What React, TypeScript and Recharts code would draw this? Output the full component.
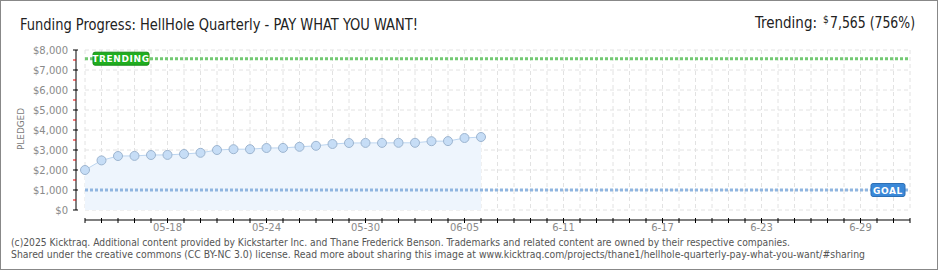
import React from 'react';
import {
  ComposedChart,
  Area,
  XAxis,
  YAxis,
  CartesianGrid,
  ReferenceLine,
} from 'recharts';

// ---- data ----
const startDate = '05-13';
const dates = [
  '05-13', '05-14', '05-15', '05-16', '05-17', '05-18', '05-19', '05-20', '05-21', '05-22',
  '05-23', '05-24', '05-25', '05-26', '05-27', '05-28', '05-29', '05-30', '05-31', '06-01',
  '06-02', '06-03', '06-04', '06-05', '06-06',
];
const pledged = [
  2000, 2480, 2700, 2705, 2750, 2755, 2800, 2860, 3000, 3040,
  3040, 3100, 3105, 3160, 3210, 3300, 3350, 3355, 3355, 3360,
  3360, 3440, 3445, 3600, 3650,
];
const goal = 1000;
const trending = 7565;
const endDay = 50; // 07-02
const labelDays = [5, 11, 17, 23, 29, 35, 41, 47];
const labelTexts = ['05-18', '05-24', '05-30', '06-05', '6-11', '6-17', '6-23', '6-29'];
const majorTicks = [0, 1000, 2000, 3000, 4000, 5000, 6000, 7000, 8000];
const minorTicks = [500, 1500, 2500, 3500, 4500, 5500, 6500, 7500];

const dayIndex = (md: string) => {
  const [m, d] = md.split('-').map(Number);
  const [m0, d0] = startDate.split('-').map(Number);
  return Math.round((Date.UTC(2025, m - 1, d) - Date.UTC(2025, m0 - 1, d0)) / 86400000);
};

const data = dates.map((d, i) => ({ day: dayIndex(d), value: pledged[i] }));
const dayTicks = Array.from({ length: endDay + 1 }, (_, i) => i);
const yTicks = [...majorTicks, ...minorTicks].sort((a, b) => a - b);

const FONT = "'DejaVu Sans', sans-serif";

const fmtMoney = (v: number) => '$' + v.toLocaleString('en-US');

const YTick = (props: any) => {
  const { x, y, payload } = props;
  const v = payload.value;
  const ax = x - 9;
  const major = majorTicks.includes(v);
  if (!major) {
    return <line x1={ax - 3} x2={ax} y1={y} y2={y} stroke="#e00000" strokeWidth={1} />;
  }
  return (
    <g>
      <line x1={ax - 3} x2={ax + 2} y1={y} y2={y} stroke="#000" strokeWidth={1} />
      <text x={ax - 8} y={y} dy={4} textAnchor="end" fill="#8a8a8a" fontSize={10} fontFamily={FONT}>
        {fmtMoney(v)}
      </text>
    </g>
  );
};

const XTick = (props: any) => {
  const { x, y, payload } = props;
  const idx = labelDays.indexOf(payload.value);
  return (
    <g>
      <line x1={x} x2={x} y1={y + 8} y2={y + 13} stroke="#000" strokeWidth={1} />
      {idx >= 0 && (
        <text x={x} y={y + 21} textAnchor="middle" fill="#8a8a8a" fontSize={10} fontFamily={FONT}>
          {labelTexts[idx]}
        </text>
      )}
    </g>
  );
};

const TrendLabel = (props: any) => {
  const { x, y } = props.viewBox;
  return (
    <g>
      <rect x={x + 8} y={y - 6.5} width={56} height={13} rx={2} fill="#1fae1f" stroke="#178c17" strokeWidth={1} />
      <text x={x + 36} y={y} dy={3.5} textAnchor="middle" fill="#fff" fontSize={9} fontWeight="bold"
        fontFamily={FONT} letterSpacing={0.6}>TRENDING</text>
    </g>
  );
};

const GoalLabel = (props: any) => {
  const { x, y, width } = props.viewBox;
  const right = x + width - 5;
  return (
    <g>
      <rect x={right - 34} y={y - 6.5} width={34} height={13} rx={2} fill="#3a88d8" stroke="#2c6fb5" strokeWidth={1} />
      <text x={right - 17} y={y} dy={3.5} textAnchor="middle" fill="#fff" fontSize={9} fontWeight="bold"
        fontFamily={FONT} letterSpacing={0.6}>GOAL</text>
    </g>
  );
};

export default function App() {
  return (
    <div style={{ position: 'absolute', left: 0, top: 0, width: 940, height: 270, background: '#fff' }}>
      <ComposedChart
        width={940}
        height={270}
        data={data}
        margin={{ top: 50, right: 30, bottom: 40, left: 0 }}
      >
        <CartesianGrid
          stroke="#e2e2e2"
          strokeDasharray="4 3"
          horizontalValues={majorTicks}
          verticalValues={dayTicks}
        />
        <XAxis
          dataKey="day"
          type="number"
          domain={[0, endDay]}
          ticks={dayTicks}
          interval={0}
          height={20}
          tickSize={0}
          tickMargin={0}
          tickLine={false}
          axisLine={{ stroke: '#000', transform: 'translate(0 10)' } as any}
          tick={<XTick />}
        />
        <YAxis
          type="number"
          domain={[0, 8000]}
          ticks={yTicks}
          interval={0}
          width={85}
          tickSize={0}
          tickMargin={0}
          tickLine={false}
          axisLine={{ stroke: '#000', transform: 'translate(-9 0)' } as any}
          tick={<YTick />}
        />
        <Area
          type="linear"
          dataKey="value"
          stroke="#bcd5f0"
          strokeWidth={1}
          fill="#eef5fd"
          fillOpacity={1}
          dot={{ r: 4.5, fill: '#c6ddf6', stroke: '#9db5d0', strokeWidth: 1 }}
          activeDot={false}
          isAnimationActive={false}
        />
        <ReferenceLine y={goal} stroke="#8fb5e0" strokeWidth={3} strokeDasharray="3 2" label={<GoalLabel />} />
        <ReferenceLine y={trending} stroke="#72c972" strokeWidth={3} strokeDasharray="3 2" label={<TrendLabel />} />
      </ComposedChart>
      <svg width={940} height={270} style={{ position: 'absolute', left: 0, top: 0, pointerEvents: 'none' }}>
        <text x={20} y={30} fontSize={16} fill="#222" fontFamily="'DejaVu Sans Condensed', sans-serif"
          textLength={398} lengthAdjust="spacingAndGlyphs">
          Funding Progress: HellHole Quarterly - PAY WHAT YOU WANT!
        </text>
        <text x={755} y={27.5} fontSize={16} fill="#222" fontFamily="'DejaVu Sans Condensed', sans-serif">
          <tspan textLength={62} lengthAdjust="spacingAndGlyphs">Trending:</tspan>
          <tspan x={823} dy={-5} fontSize={10}>$</tspan>
          <tspan x={830} dy={5} textLength={85} lengthAdjust="spacingAndGlyphs">7,565 (756%)</tspan>
        </text>
        <text transform="translate(23.5 129) rotate(-90)" textAnchor="middle" fontSize={9} fill="#7a7a7a"
          fontFamily={FONT} textLength={42} lengthAdjust="spacingAndGlyphs">PLEDGED</text>
        <text x={11} y={246} fontSize={10} fill="#555" fontFamily="'DejaVu Sans Condensed', sans-serif"
          textLength={779} lengthAdjust="spacingAndGlyphs">
          (c)2025 Kicktraq. Additional content provided by Kickstarter Inc. and Thane Frederick Benson. Trademarks and related content are owned by their respective companies.
        </text>
        <text x={11} y={258} fontSize={10} fill="#555" fontFamily="'DejaVu Sans Condensed', sans-serif"
          textLength={854} lengthAdjust="spacingAndGlyphs">
          Shared under the creative commons (CC BY-NC 3.0) license. Read more about sharing this image at www.kicktraq.com/projects/thane1/hellhole-quarterly-pay-what-you-want/#sharing
        </text>
      </svg>
      <div style={{ position: 'absolute', left: 0, top: 0, width: 938, height: 270, boxSizing: 'border-box',
        border: '1px solid #888', pointerEvents: 'none' }} />
    </div>
  );
}
